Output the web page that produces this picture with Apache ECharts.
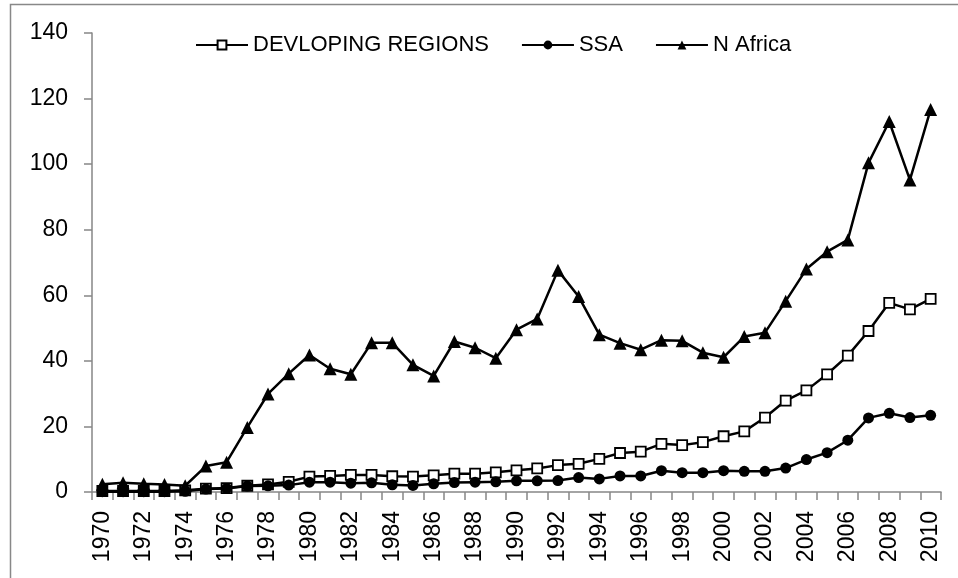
<!DOCTYPE html>
<html>
<head>
  <meta charset="utf-8" />
  <title>Chart</title>
  <script src="https://cdn.jsdelivr.net/npm/echarts@6/dist/echarts.min.js"></script>
  <style>
    html,
    body {
      margin: 0;
      padding: 0;
      background: #fff;
    }
    #chart {
      width: 958px;
      height: 578px;
    }
  </style>
</head>
<body>
  <div id="chart"></div>
  <script>
    /* x轴：年份 */
    const years = []
    for (let y = 1970; y <= 2010; y++) {
      years.push(String(y))
    }

    /* DEVLOPING REGIONS */
    const developing = [
      0.3, 0.3, 0.3, 0.3, 0.5, 1.0, 1.2, 1.9, 2.3, 3.1,
      4.7, 4.9, 5.2, 5.2, 4.8, 4.7, 5.1, 5.6, 5.6, 6.0,
      6.6, 7.2, 8.2, 8.6, 10.1, 11.9, 12.3, 14.7, 14.3, 15.2,
      17.0, 18.5, 22.7, 27.9, 31.0, 35.9, 41.6, 49.1, 57.7, 55.7,
      58.9
    ]

    /* SSA */
    const ssa = [
      0.1, 0.1, 0.1, 0.1, 0.2, 0.9, 1.1, 1.8, 1.9, 2.1,
      3.0, 3.0, 2.7, 2.8, 2.2, 2.0, 2.5, 2.9, 3.0, 3.1,
      3.4, 3.4, 3.5, 4.4, 4.0, 4.9, 4.9, 6.5, 5.9, 5.9,
      6.5, 6.3, 6.3, 7.3, 9.9, 12.0, 15.8, 22.6, 24.0, 22.7,
      23.4
    ]

    /* N Africa */
    const nAfrica = [
      2.4, 2.8, 2.5, 2.3, 1.9, 7.9, 9.1, 19.7, 29.9, 36.1,
      41.8, 37.6, 35.9, 45.5, 45.5, 38.8, 35.4, 45.9, 44.0, 40.8,
      49.5, 52.8, 67.6, 59.6, 48.0, 45.4, 43.4, 46.3, 46.1, 42.5,
      41.1, 47.4, 48.6, 58.2, 68.0, 73.3, 76.9, 100.4, 113.0, 95.2,
      116.7
    ]

    const FONT = 'Liberation Sans'
    const myChart = echarts.init(document.getElementById('chart'))

    myChart.setOption({
      animation: false,
      backgroundColor: '#fff',
      /* 外框 */
      graphic: [
        {
          type: 'rect',
          shape: { x: 10.5, y: 4.5, width: 1000, height: 1000 },
          style: { fill: 'none', stroke: '#888', lineWidth: 1.5 },
          silent: true
        }
      ],
      /* 图例 */
      legend: {
        top: 29,
        left: 190,
        itemWidth: 52,
        itemHeight: 11,
        itemGap: 32,
        textStyle: { fontFamily: FONT, fontSize: 22, color: '#000' },
        data: ['DEVLOPING REGIONS', 'SSA', 'N Africa']
      },
      grid: {
        left: 92,
        right: 17,
        top: 33,
        bottom: 86
      },
      xAxis: {
        type: 'category',
        boundaryGap: true,
        data: years,
        axisLine: { lineStyle: { color: '#868686', width: 1.5 } },
        axisTick: {
          show: true,
          interval: 0,
          length: 8,
          lineStyle: { color: '#868686', width: 1.5 }
        },
        axisLabel: {
          interval: 1,
          rotate: 90,
          margin: 19,
          fontFamily: FONT,
          fontSize: 23,
          color: '#000'
        },
        splitLine: { show: false }
      },
      yAxis: {
        type: 'value',
        min: 0,
        max: 140,
        interval: 20,
        axisLine: { show: true, lineStyle: { color: '#868686', width: 1.5 } },
        axisTick: { show: true, length: 8, lineStyle: { color: '#868686', width: 1.5 } },
        axisLabel: {
          margin: 24,
          fontFamily: FONT,
          fontSize: 23,
          color: '#000'
        },
        splitLine: { show: false }
      },
      series: [
        {
          name: 'DEVLOPING REGIONS',
          type: 'line',
          data: developing,
          symbol: 'rect',
          symbolSize: 10,
          showAllSymbol: true,
          lineStyle: { color: '#000', width: 2.5 },
          itemStyle: { color: '#fff', borderColor: '#000', borderWidth: 1.8 },
          z: 2
        },
        {
          name: 'SSA',
          type: 'line',
          data: ssa,
          symbol: 'circle',
          symbolSize: 11,
          showAllSymbol: true,
          lineStyle: { color: '#000', width: 2.5 },
          itemStyle: { color: '#000' },
          z: 3
        },
        {
          name: 'N Africa',
          type: 'line',
          data: nAfrica,
          symbol: 'triangle',
          symbolSize: 13,
          showAllSymbol: true,
          lineStyle: { color: '#000', width: 2.5 },
          itemStyle: { color: '#000' },
          z: 4
        }
      ]
    })
  </script>
</body>
</html>
